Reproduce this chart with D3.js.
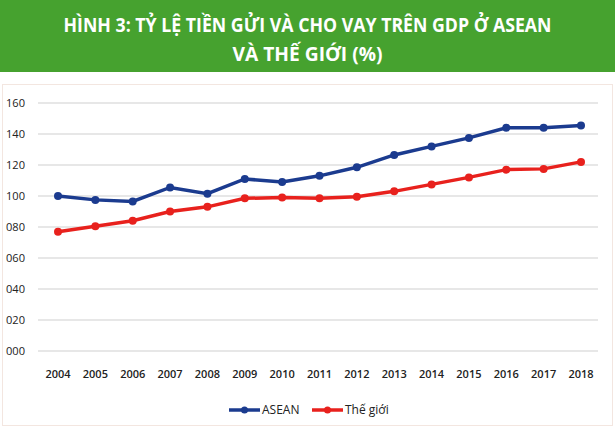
<!DOCTYPE html>
<html><head><meta charset="utf-8">
<script src="https://cdn.jsdelivr.net/npm/d3@7"></script>
<style>body{margin:0;background:#fff;}</style>
</head><body>
<div class="chart"></div>
<script>
var years = [2004,2005,2006,2007,2008,2009,2010,2011,2012,2013,2014,2015,2016,2017,2018];
var asean = [100,97.5,96.5,105.5,101.5,111,109,113,118.5,126.5,132,137.5,144,144,145.5];
var world = [77,80.5,84,90,93,98.5,99,98.5,99.5,103,107.5,112,117,117.5,122];
var yTicks = [0,20,40,60,80,100,120,140,160];

var width = 615, height = 429;
var svg = d3.select(".chart").append("svg")
    .attr("width", width).attr("height", height)
    .style("font-family", "'Open Sans', sans-serif");

// header band
svg.append("rect").attr("x", 0).attr("y", 0).attr("width", width).attr("height", 72)
    .attr("fill", "#46a22f");
svg.append("text").attr("x", width/2).attr("y", 32).attr("text-anchor", "middle")
    .attr("fill", "#fff").attr("font-weight", "bold").attr("font-size", 19)
    .attr("textLength", 488).attr("lengthAdjust", "spacingAndGlyphs")
    .text("HÌNH 3: TỶ LỆ TIỀN GỬI VÀ CHO VAY TRÊN GDP Ở ASEAN");
svg.append("text").attr("x", width/2).attr("y", 61).attr("text-anchor", "middle")
    .attr("fill", "#fff").attr("font-weight", "bold").attr("font-size", 19)
    .attr("textLength", 150).attr("lengthAdjust", "spacingAndGlyphs")
    .text("VÀ THẾ GIỚI (%)");

// panel border
svg.append("rect").attr("x", 2.5).attr("y", 84.5).attr("width", width - 5).attr("height", height - 88)
    .attr("fill", "none").attr("stroke", "#f3e6e0");

var x = d3.scalePoint().domain(years).range([58, 581]);
var y = d3.scaleLinear().domain([0, 160]).range([351, 103]);

var g = svg.append("g");
g.selectAll("line.grid").data(yTicks).join("line")
    .attr("x1", 38).attr("x2", 598)
    .attr("y1", d => y(d)).attr("y2", d => y(d))
    .attr("stroke", "#cfcfcf").attr("stroke-width", 1);

g.selectAll("text.yl").data(yTicks).join("text")
    .attr("x", 6).attr("y", d => y(d) + 4)
    .attr("font-size", 11).attr("fill", "#222")
    .attr("textLength", 19).attr("lengthAdjust", "spacingAndGlyphs")
    .text(d => d3.format("03d")(d));

g.selectAll("text.xl").data(years).join("text")
    .attr("x", d => x(d)).attr("y", 378).attr("text-anchor", "middle")
    .attr("font-size", 11).attr("font-weight", 600).attr("fill", "#222")
    .text(d => d);

var line = d3.line().x((d, i) => x(years[i])).y(d => y(d));
function series(vals, color) {
    svg.append("path").datum(vals).attr("d", line)
        .attr("fill", "none").attr("stroke", color).attr("stroke-width", 3.5);
    svg.append("g").selectAll("circle").data(vals).join("circle")
        .attr("cx", (d, i) => x(years[i])).attr("cy", d => y(d)).attr("r", 4)
        .attr("fill", color);
}
series(world, "#e8211d");
series(asean, "#1b3b8f");

// legend
var legend = [["ASEAN", "#1b3b8f", 229], ["Thế giới", "#e8211d", 312]];
legend.forEach(l => {
    svg.append("line").attr("x1", l[2]).attr("x2", l[2] + 31).attr("y1", 410).attr("y2", 410)
        .attr("stroke", l[1]).attr("stroke-width", 3.5);
    svg.append("circle").attr("cx", l[2] + 15.5).attr("cy", 410).attr("r", 3.5).attr("fill", l[1]);
    svg.append("text").attr("x", l[2] + 33).attr("y", 414).attr("font-size", 12).attr("fill", "#222")
        .text(l[0]);
});
</script>
</body></html>
